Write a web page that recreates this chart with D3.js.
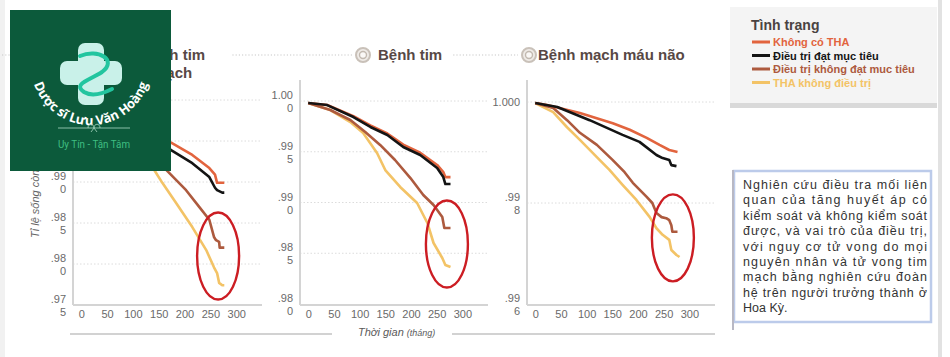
<!DOCTYPE html>
<html><head><meta charset="utf-8">
<script src="https://cdn.jsdelivr.net/npm/d3@7"></script>
<style>
body{margin:0;background:#fff;}
svg{display:block;font-family:"Liberation Sans",Arial,sans-serif;}
</style></head><body>
<svg id="c" width="950" height="357"></svg>
<script>
// ---------------- DATA ----------------
const timeTicks = [0, 50, 100, 150, 200, 250, 300];
const seriesNames = ["Không có THA", "Điều trị đạt mục tiêu", "Điều trị không đạt muc tiêu", "THA không điều trị"];
const panelTitles = [["Bệnh tim", "mạch"], ["Bệnh tim"], ["Bệnh mạch máu não"]];

// Panel 1 – Bệnh tim mạch  [month, survival]
const cvd_noHTN   = [[0,.9998],[50,.9985],[100,.9968],[150,.9954],[174,.9948],[215,.9933],[248,.9917],[259,.9909],[263,.9899],[277,.9899]];
const cvd_ctrl    = [[0,.9998],[50,.9983],[100,.9963],[150,.9946],[174,.9939],[215,.9923],[248,.9906],[259,.9893],[263,.9890],[273,.9887],[277,.9887]];
const cvd_unctrl  = [[0,.9998],[50,.9981],[100,.9959],[150,.9933],[164,.9915],[203,.9890],[228,.9870],[248,.9854],[257,.9833],[261,.9829],[267,.9827],[268,.9820],[277,.9820]];
const cvd_untreat = [[0,.9998],[50,.9978],[100,.9951],[141,.9915],[157,.9899],[184,.9874],[215,.9845],[242,.9817],[257,.9796],[263,.9789],[267,.9777],[273,.9774],[277,.9774]];
const cvdTicks  = [.975, .980, .985, .990, .995, 1.000];
const cvdLabels = [[".97","5"],[".98","0"],[".98","5"],[".99","0"],[".99","5"],["1.00","0"]];

// Panel 2 – Bệnh tim
const chd_noHTN   = [[0,.9998],[37,.9996],[88,.9985],[121,.9976],[154,.9968],[185,.9957],[218,.9949],[251,.9937],[263,.9930],[267,.9925],[277,.9925]];
const chd_ctrl    = [[0,.9998],[37,.9996],[88,.99842],[121,.99744],[154,.99665],[185,.99547],[218,.99468],[251,.9934],[263,.99251],[267,.99182],[277,.99182]];
const chd_unctrl  = [[0,.9998],[43,.99911],[82,.99813],[111,.99695],[140,.99567],[169,.99419],[199,.99241],[224,.99074],[244,.98975],[261,.98857],[265,.98749],[277,.98749]];
const chd_untreat = [[0,.9998],[43,.99911],[82,.99793],[107,.99685],[134,.99488],[150,.9932],[179,.99153],[212,.98995],[232,.98798],[244,.98601],[261,.98453],[267,.98384],[277,.98365]];
const chdTicks  = [.980, .985, .990, .995, 1.000];
const chdLabels = [[".98","0"],[".98","5"],[".99","0"],[".99","5"],["1.00","0"]];

// Panel 3 – Bệnh mạch máu não
const cbv_noHTN   = [[0,.99998],[23,.99994],[87,.99978],[151,.99958],[184,.99945],[217,.99929],[242,.99915],[261,.99905],[277,.99901]];
const cbv_ctrl    = [[0,.99998],[43,.9999],[106,.99964],[170,.99935],[203,.99921],[236,.99895],[248,.99889],[261,.99885],[265,.99875],[275,.99873]];
const cbv_unctrl  = [[0,.99998],[35,.99988],[62,.99964],[87,.99939],[120,.99915],[151,.99885],[174,.99861],[190,.9984],[217,.99812],[228,.998],[236,.9978],[246,.99772],[255,.9977],[261,.99766],[265,.99756],[267,.99743],[277,.99743]];
const cbv_untreat = [[0,.99998],[35,.9998],[62,.9995],[87,.99925],[120,.99891],[145,.99865],[170,.99836],[197,.99806],[223,.99772],[236,.9975],[248,.99737],[261,.99727],[265,.99707],[275,.99697],[281,.99693]];
const cbvTicks  = [.996, .998, 1.000];
const cbvLabels = [[".99","6"],[".99","8"],["1.000"]];

// Highlighted end-of-follow-up region [month, survival]
const highlightCenters = [[265,.98098],[270,.98591],[268,.99731]];

const noteLines = ["Nghiên cứu điều tra mối liên","quan của tăng huyết áp có","kiểm soát và không kiểm soát","được, và vai trò của điều trị,","với nguy cơ tử vong do mọi","nguyên nhân và tử vong tim","mạch bằng nghiên cứu đoàn","hệ trên người trưởng thành ở","Hoa Kỳ."];

// ---------------- STYLE / LAYOUT ----------------
const colors = ["#e2643e", "#141414", "#ad5a3e", "#f3c366"];
const drawOrder = [3, 2, 0, 1];
const panels = [
  {series:[cvd_noHTN,cvd_ctrl,cvd_unctrl,cvd_untreat], ticks:cvdTicks, labels:cvdLabels, ydom:[.975,1], yr:[305,100], x0:73, x1:262, labelX:66},
  {series:[chd_noHTN,chd_ctrl,chd_unctrl,chd_untreat], ticks:chdTicks, labels:chdLabels, ydom:[.980,1], yr:[304,101], x0:300, x1:488, labelX:293},
  {series:[cbv_noHTN,cbv_ctrl,cbv_unctrl,cbv_untreat], ticks:cbvTicks, labels:cbvLabels, ydom:[.996,1], yr:[304,102], x0:527, x1:715, labelX:520}
];

const svg = d3.select("#c");

// page edges
svg.append("rect").attr("x",0).attr("y",0).attr("width",5).attr("height",357).attr("fill","#f1f1f1");
svg.append("rect").attr("x",938).attr("y",0).attr("width",4).attr("height",357).attr("fill","#e2e2e2");

// header dotted line
svg.append("line").attr("x1",2).attr("x2",695).attr("y1",55).attr("y2",55)
  .attr("stroke","#c8c8c8").attr("stroke-width",1.2).attr("stroke-dasharray","1.2,2");
// bottom rule
svg.append("line").attr("x1",70).attr("x2",715).attr("y1",334).attr("y2",334)
  .attr("stroke","#d2d2d2").attr("stroke-width",2);

panels.forEach((p, i) => {
  const x = d3.scaleLinear().domain([-16, 350]).range([p.x0, p.x1]);
  const y = d3.scaleLinear().domain(p.ydom).range(p.yr);
  const g = svg.append("g");

  // grid
  g.selectAll(".grid").data(p.ticks.slice(1)).enter().append("line")
    .attr("x1", p.x0).attr("x2", p.x1).attr("y1", d => y(d)).attr("y2", d => y(d))
    .attr("stroke", "#dcdcdc").attr("stroke-width", 1).attr("stroke-dasharray", "1.5,2");

  // axes lines
  g.append("line").attr("x1", p.x0).attr("x2", p.x0).attr("y1", 80).attr("y2", 305)
    .attr("stroke", "#d4d4d4").attr("stroke-width", 2);
  g.append("line").attr("x1", p.x0).attr("x2", p.x1).attr("y1", 305).attr("y2", 305)
    .attr("stroke", "#d4d4d4").attr("stroke-width", 2);

  // x tick labels via d3 axis
  const xa = d3.axisBottom(x).tickValues(timeTicks).tickSize(0).tickPadding(0).tickFormat(d3.format("d"));
  const xg = g.append("g").attr("transform", "translate(0,310)").call(xa);
  xg.select(".domain").remove();
  xg.selectAll("text").attr("fill", "#6a6a6a").attr("font-size", 11).attr("dy", "0.71em")
    .attr("font-family", "Liberation Sans, Arial, sans-serif");

  // y tick labels (wrapped)
  p.ticks.forEach((t, k) => {
    const lab = p.labels[k];
    const txt = g.append("text").attr("text-anchor", "end").attr("fill", "#6a6a6a").attr("font-size", 11);
    if (lab.length === 1) {
      txt.append("tspan").attr("x", p.labelX).attr("y", y(t) + 4).text(lab[0]);
    } else {
      txt.append("tspan").attr("x", p.labelX).attr("y", y(t) - 2).text(lab[0]);
      txt.append("tspan").attr("x", p.labelX).attr("y", y(t) + 11).text(lab[1]);
    }
  });

  // curves
  const line = d3.line().x(d => x(d[0])).y(d => y(d[1]));
  drawOrder.forEach(s => {
    g.append("path").datum(p.series[s]).attr("d", line)
      .attr("fill", "none").attr("stroke", colors[s]).attr("stroke-width", 2.6)
      .attr("stroke-linejoin", "round");
  });

  // highlight ellipse
  const hc = highlightCenters[i];
  g.append("ellipse").attr("cx", x(hc[0])).attr("cy", y(hc[1])).attr("rx", 21).attr("ry", 43.5)
    .attr("fill", "none").attr("stroke", "#cc1d23").attr("stroke-width", 2.4);
});

// titles
function icon(cx, cy) {
  svg.append("circle").attr("cx", cx).attr("cy", cy).attr("r", 7).attr("fill", "#efebe7").attr("stroke", "#c9c1b9").attr("stroke-width", 2);
  svg.append("circle").attr("cx", cx).attr("cy", cy).attr("r", 3.5).attr("fill", "#faf8f6").attr("stroke", "#c2b9b0").attr("stroke-width", 1.4);
}
const titleColor = "#574845";
// panel 1 title (mostly under logo)
svg.append("rect").attr("x", 110).attr("y", 45).attr("width", 122).attr("height", 20).attr("fill", "#fff");
icon(128, 55);
svg.append("text").attr("x", 141).attr("y", 60).attr("font-size", 15).attr("font-weight", "bold").attr("fill", titleColor).text(panelTitles[0][0]);
svg.append("text").attr("x", 153).attr("y", 78).attr("font-size", 15).attr("font-weight", "bold").attr("fill", titleColor).text(panelTitles[0][1]);
// panel 2
svg.append("rect").attr("x", 354).attr("y", 45).attr("width", 98).attr("height", 20).attr("fill", "#fff");
icon(363, 55);
svg.append("text").attr("x", 378).attr("y", 60).attr("font-size", 15).attr("font-weight", "bold").attr("fill", titleColor).text(panelTitles[1][0]);
// panel 3
svg.append("rect").attr("x", 518).attr("y", 45).attr("width", 190).attr("height", 20).attr("fill", "#fff");
icon(529, 55);
svg.append("text").attr("x", 538).attr("y", 60).attr("font-size", 15).attr("font-weight", "bold").attr("fill", titleColor).text(panelTitles[2][0]);

// axis titles
svg.append("rect").attr("x", 332).attr("y", 326).attr("width", 120).attr("height", 14).attr("fill", "#fff");
const xt = svg.append("text").attr("x", 358).attr("y", 336).attr("font-style", "italic").attr("fill", "#5a5a5a");
xt.append("tspan").attr("font-size", 11).text("Thời gian ");
xt.append("tspan").attr("font-size", 9).text("(tháng)");
svg.append("text").attr("transform", "translate(39,238) rotate(-90)").attr("font-size", 11)
  .attr("font-style", "italic").attr("fill", "#666").text("Tỉ lệ sống còn");

// legend
svg.append("rect").attr("x", 730).attr("y", 7).attr("width", 207).attr("height", 97).attr("fill", "#f4f4f4");
svg.append("rect").attr("x", 730).attr("y", 103).attr("width", 207).attr("height", 5).attr("fill", "#d9d9d9");
svg.append("text").attr("x", 751).attr("y", 30).attr("font-size", 14).attr("font-weight", "bold").attr("fill", "#4a4342").text("Tình trạng");
const legY = [42, 55.5, 69, 82.5];
seriesNames.forEach((n, k) => {
  svg.append("line").attr("x1", 752).attr("x2", 770).attr("y1", legY[k]).attr("y2", legY[k])
    .attr("stroke", colors[k]).attr("stroke-width", 3);
  svg.append("text").attr("x", 773).attr("y", legY[k] + 4).attr("font-size", 11).attr("font-weight", "bold")
    .attr("fill", colors[k]).text(n);
});

// note box
svg.append("rect").attr("x", 734).attr("y", 171).attr("width", 197).attr("height", 151)
  .attr("fill", "#fff").attr("stroke", "#bccbea").attr("stroke-width", 2.5);
svg.append("line").attr("x1", 733).attr("x2", 733).attr("y1", 170).attr("y2", 330).attr("stroke", "#b8b8c4").attr("stroke-width", 2);
noteLines.forEach((l, k) => {
  const t = svg.append("text").attr("x", 743).attr("y", 189 + k * 15.4).attr("font-size", 12.5).attr("fill", "#333").text(l);
  if (k < noteLines.length - 1) t.attr("textLength", 184).attr("lengthAdjust", "spacing");
});

// watermark logo
const lg = svg.append("g");
lg.append("rect").attr("x", 10).attr("y", 10).attr("width", 161).attr("height", 161).attr("fill", "#0c5a3b");
lg.append("rect").attr("x", 60).attr("y", 61).attr("width", 62).attr("height", 24).attr("rx", 7).attr("fill", "#c9f1e9");
lg.append("rect").attr("x", 78).attr("y", 43).attr("width", 26).attr("height", 62).attr("rx", 7).attr("fill", "#c9f1e9");
lg.append("path").attr("d", "M80,56 C98,48 118,60 102,72 C90,80 72,84 84,92 C92,97 104,93 112,89")
  .attr("fill", "none").attr("stroke", "#22c59f").attr("stroke-width", 4).attr("stroke-linecap", "round");
lg.append("path").attr("id", "arcp").attr("d", "M32,76 A60,60 0 0 0 150,76").attr("fill", "none");
lg.append("text").attr("font-size", 13).attr("font-weight", "bold").attr("fill", "#ffffff")
  .attr("font-family", "Open Sans, Liberation Sans, sans-serif")
  .append("textPath").attr("href", "#arcp").attr("startOffset", "50%").attr("text-anchor", "middle")
  .attr("textLength", 150).attr("lengthAdjust", "spacing")
  .text("Dược sĩ Lưu Văn Hoàng");
lg.append("line").attr("x1", 58).attr("x2", 130).attr("y1", 128).attr("y2", 128).attr("stroke", "#a9d8c4").attr("stroke-width", 0.8);
lg.append("path").attr("d", "M88,128 C88,123 94,123 94,128 C94,123 100,123 100,128 M94,128 L91,132 M94,128 L97,132")
  .attr("fill", "none").attr("stroke", "#a9d8c4").attr("stroke-width", 0.8);
lg.append("text").attr("x", 58).attr("y", 148).attr("font-size", 11.5).attr("fill", "#3fbf82")
  .attr("font-family", "Roboto, Liberation Sans, sans-serif").attr("textLength", 72).attr("lengthAdjust", "spacingAndGlyphs")
  .text("Uy Tín - Tận Tâm");
</script>
</body></html>
